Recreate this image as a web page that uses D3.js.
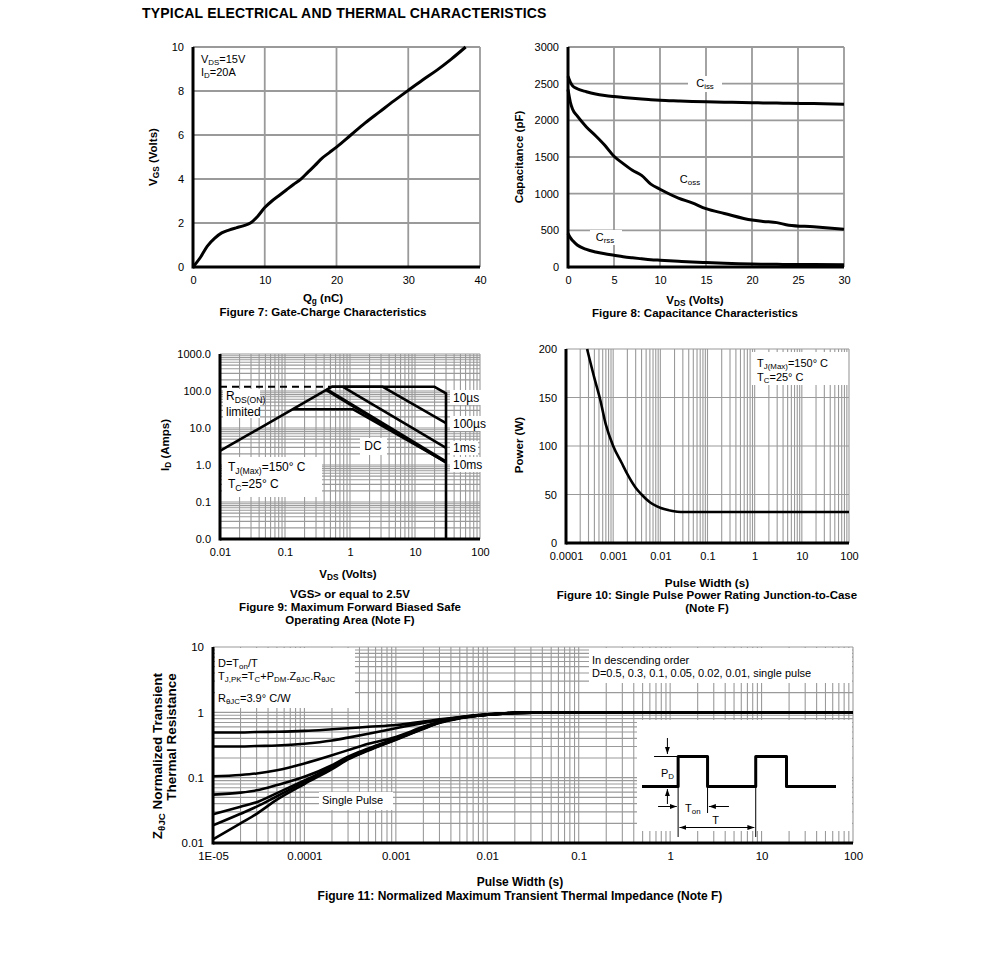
<!DOCTYPE html>
<html>
<head>
<meta charset="utf-8">
<script src="https://cdn.jsdelivr.net/npm/d3@7"></script>
<style>
body { margin: 0; background: #fff; }
svg text { font-family: "Liberation Sans", Arial, sans-serif; }
</style>
</head>
<body>
<svg id="chart" width="991" height="958"></svg>
<script>
// ---------- data ----------
// Figure 7 gate charge
const gateQg  = [0, 1, 2, 3, 4, 5, 6, 7, 8, 9, 10, 11, 12, 13, 14, 15, 16, 17, 18, 19, 20, 22, 24, 26, 28, 30, 32, 34, 36, 38];
const gateVgs = [0, 0.42, 0.95, 1.3, 1.55, 1.68, 1.78, 1.87, 2.0, 2.3, 2.7, 3.0, 3.25, 3.5, 3.75, 3.98, 4.3, 4.62, 4.95, 5.2, 5.45, 6.0, 6.55, 7.05, 7.55, 8.03, 8.5, 8.95, 9.45, 10];
const gateXTicks = [0, 10, 20, 30, 40];
const gateYTicks = [0, 2, 4, 6, 8, 10];

// Figure 8 capacitance
const capVds  = [0, 0.25, 0.5, 1, 2, 3, 4, 5, 6, 7, 8, 9, 10, 12, 13.5, 15, 17, 20, 21.2, 22.7, 24, 26.7, 30];
const capCiss = [2600, 2520, 2470, 2430, 2390, 2360, 2340, 2325, 2312, 2300, 2290, 2282, 2275, 2265, 2258, 2252, 2247, 2240, 2238, 2235, 2232, 2228, 2220];
const capCoss = [2420, 2250, 2150, 2060, 1910, 1790, 1660, 1510, 1410, 1320, 1250, 1130, 1060, 940, 875, 795, 730, 640, 622, 605, 570, 548, 515];
const capCrss = [460, 400, 360, 300, 240, 205, 180, 160, 140, 125, 112, 100, 92, 78, 68, 60, 50, 40, 38, 36, 35, 33, 32];
const capXTicks = [0, 5, 10, 15, 20, 25, 30];
const capYTicks = [0, 500, 1000, 1500, 2000, 2500, 3000];

// Figure 9 safe operating area
const soaRdsV   = [0.01, 0.5];
const soaRdsI   = [130, 130];
const soa10usV  = [0.01, 0.52, 20, 30, 30];
const soa10usI  = [2.4, 130, 130, 86, 0.01];
const soa100usV = [0.52, 3.2, 30];
const soa100usI = [130, 130, 13.5];
const soa1msV   = [0.78, 30];
const soa1msI   = [130, 2.9];
const soa10msV  = [0.133, 1.12, 30];
const soa10msI  = [32, 32, 1.2];
const soaDcV    = [0.43, 30];
const soaDcI    = [110, 1.2];
const soaXTicks = [0.01, 0.1, 1, 10, 100];
const soaXLabels = ["0.01", "0.1", "1", "10", "100"];
const soaYTicks = [0.01, 0.1, 1, 10, 100, 1000];
const soaYLabels = ["0.0", "0.1", "1.0", "10.0", "100.0", "1000.0"];

// Figure 10 single pulse power
const pwrT = [0.00028, 0.0004, 0.00053, 0.0007, 0.001, 0.0015, 0.002, 0.003, 0.004, 0.006, 0.0085, 0.012, 0.018, 0.027, 0.05, 0.1, 1, 10, 100];
const pwrP = [200, 170, 148, 122, 100, 83, 71, 57, 50, 42, 37.7, 35, 33, 32, 32, 32, 32, 32, 32];
const pwrXTicks = [0.0001, 0.001, 0.01, 0.1, 1, 10, 100];
const pwrXLabels = ["0.0001", "0.001", "0.01", "0.1", "1", "10", "100"];
const pwrYTicks = [0, 50, 100, 150, 200];

// Figure 11 transient thermal impedance
const zthT   = [1e-5, 2e-5, 3e-5, 5e-5, 1e-4, 2e-4, 3e-4, 5e-4, 1e-3, 2e-3, 3e-3, 5e-3, 1e-2, 2e-2, 5e-2, 0.1, 1, 10, 100];
const zthD05 = [0.49, 0.49, 0.5, 0.505, 0.52, 0.55, 0.57, 0.6, 0.64, 0.72, 0.78, 0.85, 0.93, 0.98, 1, 1, 1, 1, 1];
const zthD03 = [0.30, 0.30, 0.305, 0.31, 0.33, 0.37, 0.41, 0.47, 0.57, 0.69, 0.76, 0.84, 0.93, 0.98, 1, 1, 1, 1, 1];
const zthD01 = [0.105, 0.11, 0.116, 0.13, 0.165, 0.22, 0.264, 0.33, 0.42, 0.6, 0.72, 0.83, 0.92, 0.98, 1, 1, 1, 1, 1];
const zthD005 = [0.055, 0.059, 0.064, 0.077, 0.103, 0.155, 0.21, 0.28, 0.40, 0.58, 0.71, 0.82, 0.92, 0.98, 1, 1, 1, 1, 1];
const zthD002 = [0.0275, 0.036, 0.042, 0.058, 0.091, 0.145, 0.2, 0.27, 0.39, 0.57, 0.7, 0.82, 0.92, 0.98, 1, 1, 1, 1, 1];
const zthD001 = [0.0186, 0.028, 0.036, 0.052, 0.086, 0.14, 0.195, 0.265, 0.385, 0.565, 0.7, 0.82, 0.92, 0.98, 1, 1, 1, 1, 1];
const zthSingle = [0.0114, 0.02, 0.028, 0.046, 0.08, 0.135, 0.19, 0.26, 0.38, 0.56, 0.69, 0.81, 0.92, 0.98, 1, 1, 1, 1, 1];
const zthXTicks = [1e-5, 1e-4, 1e-3, 1e-2, 0.1, 1, 10, 100];
const zthXLabels = ["1E-05", "0.0001", "0.001", "0.01", "0.1", "1", "10", "100"];
const zthYTicks = [0.01, 0.1, 1, 10];
const zthYLabels = ["0.01", "0.1", "1", "10"];

// inset pulse sketch (arbitrary units)
const pulseT     = [0, 2.7, 2.7, 4.9, 4.9, 8.5, 8.5, 10.8, 10.8, 14.5];
const pulseLevel = [0, 0, 1, 1, 0, 0, 1, 1, 0, 0];

// ---------- helpers ----------
const svg = d3.select('#chart');
const GRID = '#9a9a9a';

function logVals(lo, hi) {
    const out = [];
    for (let e = Math.round(Math.log10(lo)); e < Math.round(Math.log10(hi)); e++) {
        for (let m = 1; m < 10; m++) out.push(+(m * Math.pow(10, e)).toPrecision(3));
    }
    out.push(hi);
    return out;
}

function grid(g, x, y, xs, ys, w) {
    g.append('g').selectAll('line').data(xs).enter().append('line')
        .attr('x1', d => x(d)).attr('x2', d => x(d))
        .attr('y1', y.range()[0]).attr('y2', y.range()[1])
        .attr('stroke', GRID).attr('stroke-width', w);
    g.append('g').selectAll('line').data(ys).enter().append('line')
        .attr('y1', d => y(d)).attr('y2', d => y(d))
        .attr('x1', x.range()[0]).attr('x2', x.range()[1])
        .attr('stroke', GRID).attr('stroke-width', w);
}

function axes(g, x, y, xt, xf, yt, yf, fs) {
    fs = fs || 11;
    g.append('g').attr('transform', `translate(0,${y.range()[0]})`)
        .call(d3.axisBottom(x).tickValues(xt).tickFormat(xf).tickSize(0).tickPadding(9))
        .call(a => a.select('.domain').remove())
        .selectAll('text').attr('font-size', fs).attr('fill', '#000')
        .attr('font-family', '"Liberation Sans", Arial, sans-serif');
    g.append('g').attr('transform', `translate(${x.range()[0]},0)`)
        .call(d3.axisLeft(y).tickValues(yt).tickFormat(yf).tickSize(0).tickPadding(9))
        .call(a => a.select('.domain').remove())
        .selectAll('text').attr('font-size', fs).attr('fill', '#000')
        .attr('font-family', '"Liberation Sans", Arial, sans-serif');
    g.append('line').attr('x1', x.range()[0]).attr('x2', x.range()[1])
        .attr('y1', y.range()[0]).attr('y2', y.range()[0])
        .attr('stroke', '#000').attr('stroke-width', 3);
    g.append('line').attr('x1', x.range()[0]).attr('x2', x.range()[0])
        .attr('y1', y.range()[0] + 1.5).attr('y2', y.range()[1])
        .attr('stroke', '#000').attr('stroke-width', 3);
}

// parts: plain strings or [string] for subscript
function rich(parent, x, y, parts, o) {
    o = o || {};
    const size = o.size || 11;
    const t = parent.append('text').attr('x', x).attr('y', y)
        .attr('font-size', size)
        .attr('font-weight', o.bold ? 'bold' : null)
        .attr('text-anchor', o.anchor || 'start')
        .attr('dominant-baseline', 'central');
    if (o.rotate) t.attr('transform', `rotate(-90,${x},${y})`);
    let inSub = false;
    parts.forEach(p => {
        const isSub = Array.isArray(p);
        const s = t.append('tspan').text(isSub ? p[0] : p);
        if (isSub) {
            s.attr('font-size', size * 0.72);
            if (!inSub) s.attr('dy', size * 0.3);
        } else if (inSub) {
            s.attr('dy', -size * 0.3);
        }
        inSub = isSub;
    });
    return t;
}

function box(g, x, y, w, h) {
    g.append('rect').attr('x', x).attr('y', y).attr('width', w).attr('height', h).attr('fill', '#fff');
}

function curve(g, x, y, xs, ys, w, c, dash) {
    const pts = xs.map((d, i) => [d, ys[i]]);
    g.append('path').datum(pts)
        .attr('d', d3.line().x(d => x(d[0])).y(d => y(d[1])).curve(c || d3.curveLinear))
        .attr('fill', 'none').attr('stroke', '#000').attr('stroke-width', w)
        .attr('stroke-linejoin', 'round')
        .attr('stroke-dasharray', dash || null);
}

// title
svg.append('text').attr('x', 142).attr('y', 18).attr('font-size', 14).attr('font-weight', 'bold')
    .attr('letter-spacing', 0.2)
    .text('TYPICAL ELECTRICAL AND THERMAL CHARACTERISTICS');

// ---------- Figure 7 ----------
{
    const g = svg.append('g');
    const x = d3.scaleLinear().domain([0, 40]).range([193, 480]);
    const y = d3.scaleLinear().domain([0, 10]).range([267, 47]);
    grid(g, x, y, gateXTicks, gateYTicks, 1.8);
    curve(g, x, y, gateQg, gateVgs, 3, d3.curveMonotoneX);
    axes(g, x, y, gateXTicks, d3.format('d'), gateYTicks, d3.format('d'));
    rich(g, 201, 59, ['V', ['DS'], '=15V']);
    rich(g, 201, 72, ['I', ['D'], '=20A']);
    rich(g, 323, 298, ['Q', ['g'], ' (nC)'], { bold: true, anchor: 'middle', size: 11.5 });
    rich(g, 323, 312, ['Figure 7: Gate-Charge Characteristics'], { bold: true, anchor: 'middle', size: 11.5 });
    rich(g, 153, 157, ['V', ['GS'], ' (Volts)'], { bold: true, anchor: 'middle', rotate: true, size: 11.5 });
}

// ---------- Figure 8 ----------
{
    const g = svg.append('g');
    const x = d3.scaleLinear().domain([0, 30]).range([568, 844]);
    const y = d3.scaleLinear().domain([0, 3000]).range([267, 47]);
    grid(g, x, y, capXTicks, capYTicks, 1.8);
    box(g, 688, 76, 34, 16);
    box(g, 677, 172, 27, 15);
    box(g, 590, 230, 32, 15);
    curve(g, x, y, capVds, capCiss, 3, d3.curveMonotoneX);
    curve(g, x, y, capVds, capCoss, 3, d3.curveMonotoneX);
    curve(g, x, y, capVds, capCrss, 3, d3.curveMonotoneX);
    axes(g, x, y, capXTicks, d3.format('d'), capYTicks, d3.format('d'));
    rich(g, 705, 83, ['C', ['iss']], { anchor: 'middle' });
    rich(g, 690, 179, ['C', ['oss']], { anchor: 'middle' });
    rich(g, 605, 237, ['C', ['rss']], { anchor: 'middle' });
    rich(g, 695, 300, ['V', ['DS'], ' (Volts)'], { bold: true, anchor: 'middle', size: 11.5 });
    rich(g, 695, 313, ['Figure 8: Capacitance Characteristics'], { bold: true, anchor: 'middle', size: 11.5 });
    rich(g, 519, 157, ['Capacitance (pF)'], { bold: true, anchor: 'middle', rotate: true, size: 11.5 });
}

// ---------- Figure 9 ----------
{
    const g = svg.append('g');
    const x = d3.scaleLog().domain([0.01, 100]).range([220, 480]);
    const y = d3.scaleLog().domain([0.01, 1000]).range([539, 354]);
    grid(g, x, y, logVals(0.01, 100), logVals(0.01, 1000), 1.1);
    box(g, 223, 389, 37, 29);
    box(g, 222, 457, 100, 40);
    box(g, 360, 438, 27, 17);
    box(g, 450, 390, 32, 15);
    box(g, 450, 416, 35, 15);
    box(g, 450, 441, 28, 14);
    box(g, 450, 457, 32, 15);
    curve(g, x, y, soaRdsV, soaRdsI, 2, null, '7,5');
    curve(g, x, y, soa10usV, soa10usI, 2.6);
    curve(g, x, y, soa100usV, soa100usI, 2.6);
    curve(g, x, y, soa1msV, soa1msI, 2.6);
    curve(g, x, y, soa10msV, soa10msI, 2.6);
    curve(g, x, y, soaDcV, soaDcI, 3.6);
    axes(g, x, y, soaXTicks, (d, i) => soaXLabels[i], soaYTicks, (d, i) => soaYLabels[i]);
    rich(g, 226, 396, ['R', ['DS(ON)']], { size: 12 });
    rich(g, 226, 412, ['limited'], { size: 12 });
    rich(g, 228, 467, ['T', ['J(Max)'], '=150\u00b0  C'], { size: 12 });
    rich(g, 228, 484, ['T', ['C'], '=25\u00b0  C'], { size: 12 });
    rich(g, 373, 446, ['DC'], { size: 12, anchor: 'middle' });
    rich(g, 453, 398, ['10\u00b5s'], { size: 12 });
    rich(g, 453, 424, ['100\u00b5s'], { size: 12 });
    rich(g, 453, 448, ['1ms'], { size: 12 });
    rich(g, 453, 465, ['10ms'], { size: 12 });
    rich(g, 348, 574, ['V', ['DS'], ' (Volts)'], { bold: true, anchor: 'middle', size: 11.5 });
    rich(g, 350, 594, ['VGS> or equal to 2.5V'], { bold: true, anchor: 'middle', size: 11.5 });
    rich(g, 350, 607, ['Figure 9: Maximum Forward Biased Safe'], { bold: true, anchor: 'middle', size: 11.5 });
    rich(g, 350, 620, ['Operating Area (Note F)'], { bold: true, anchor: 'middle', size: 11.5 });
    rich(g, 165, 445, ['I', ['D'], ' (Amps)'], { bold: true, anchor: 'middle', rotate: true, size: 11.5 });
}

// ---------- Figure 10 ----------
{
    const g = svg.append('g');
    const x = d3.scaleLog().domain([0.0001, 100]).range([566, 849]);
    const y = d3.scaleLinear().domain([0, 200]).range([543, 349]);
    grid(g, x, y, logVals(0.0001, 100), pwrYTicks, 1.1);
    box(g, 752, 352, 96, 33);
    curve(g, x, y, pwrT, pwrP, 2.6, d3.curveMonotoneX);
    axes(g, x, y, pwrXTicks, (d, i) => pwrXLabels[i], pwrYTicks, d3.format('d'));
    rich(g, 757, 363, ['T', ['J(Max)'], '=150\u00b0  C']);
    rich(g, 757, 377, ['T', ['C'], '=25\u00b0  C']);
    rich(g, 707, 582, ['Pulse Width (s)'], { bold: true, anchor: 'middle', size: 11.7 });
    rich(g, 707, 595, ['Figure 10: Single Pulse Power Rating Junction-to-Case'], { bold: true, anchor: 'middle', size: 11.5 });
    rich(g, 707, 608, ['(Note F)'], { bold: true, anchor: 'middle', size: 11.5 });
    rich(g, 519, 445, ['Power (W)'], { bold: true, anchor: 'middle', rotate: true, size: 11.5 });
}

// ---------- Figure 11 ----------
{
    const g = svg.append('g');
    const x = d3.scaleLog().domain([1e-5, 100]).range([213, 853]);
    const y = d3.scaleLog().domain([0.01, 10]).range([843, 647]);
    grid(g, x, y, logVals(1e-5, 100), logVals(0.01, 10), 1.1);
    box(g, 215, 648, 140, 60);
    box(g, 589, 648, 263, 35);
    box(g, 319, 792, 74, 18);
    box(g, 637, 720, 215, 111);
    [zthD05, zthD03, zthD01, zthD005, zthD002, zthD001, zthSingle].forEach(s =>
        curve(g, x, y, zthT, s, 2.6, d3.curveMonotoneX));
    axes(g, x, y, zthXTicks, (d, i) => zthXLabels[i], zthYTicks, (d, i) => zthYLabels[i], 11.5);

    rich(g, 218, 663, ['D=T', ['on'], '/T']);
    rich(g, 218, 676, ['T', ['J,PK'], '=T', ['C'], '+P', ['DM'], '.Z', ['\u03b8JC'], '.R', ['\u03b8JC']]);
    rich(g, 218, 698, ['R', ['\u03b8JC'], '=3.9\u00b0  C/W']);
    rich(g, 592, 660, ['In descending order']);
    rich(g, 592, 673, ['D=0.5, 0.3, 0.1, 0.05, 0.02, 0.01, single pulse']);
    rich(g, 322, 800, ['Single Pulse']);

    // inset pulse sketch
    const px = d3.scaleLinear().domain([0, 14.5]).range([642, 836]);
    const py = d3.scaleLinear().domain([0, 1]).range([786.5, 756.5]);
    const defs = svg.append('defs');
    defs.append('marker').attr('id', 'ah').attr('viewBox', '0 0 10 10')
        .attr('refX', 10).attr('refY', 5).attr('markerWidth', 7).attr('markerHeight', 7)
        .attr('orient', 'auto-start-reverse')
        .append('path').attr('d', 'M0,1.5 L10,5 L0,8.5 Z').attr('fill', '#000');
    curve(g, px, py, pulseT, pulseLevel, 3);
    const thin = (x1, y1, x2, y2) => g.append('line').attr('x1', x1).attr('y1', y1)
        .attr('x2', x2).attr('y2', y2).attr('stroke', '#000').attr('stroke-width', 1);
    thin(px(0.9), py(1), px(2.7), py(1));
    thin(px(2.7), py(0), px(2.7), 837);
    thin(px(4.9), py(0), px(4.9), 813);
    thin(px(8.5), py(0), px(8.5), 837);
    thin(px(1.9), 738, px(1.9), 754).attr('marker-end', 'url(#ah)');
    thin(px(1.9), 804, px(1.9), 789).attr('marker-end', 'url(#ah)');
    thin(px(1.2), 806.5, px(2.6), 806.5).attr('marker-end', 'url(#ah)');
    thin(px(6.5), 806.5, px(5.0), 806.5).attr('marker-end', 'url(#ah)');
    thin(px(2.8), 827.5, px(8.4), 827.5).attr('marker-end', 'url(#ah)').attr('marker-start', 'url(#ah)');
    rich(g, px(1.9), 773, ['P', ['D']], { anchor: 'middle' });
    rich(g, px(3.8), 808, ['T', ['on']], { anchor: 'middle' });
    rich(g, px(5.5), 820, ['T'], { anchor: 'middle' });

    rich(g, 520, 882, ['Pulse Width (s)'], { bold: true, anchor: 'middle', size: 12 });
    rich(g, 520, 896, ['Figure 11: Normalized Maximum Transient Thermal Impedance (Note F)'], { bold: true, anchor: 'middle', size: 12 });
    rich(g, 157, 756, ['Z', ['\u03b8JC'], ' Normalized Transient'], { bold: true, anchor: 'middle', rotate: true, size: 13.5 });
    rich(g, 171, 737, ['Thermal Resistance'], { bold: true, anchor: 'middle', rotate: true, size: 13.5 });
}
</script>
</body>
</html>
